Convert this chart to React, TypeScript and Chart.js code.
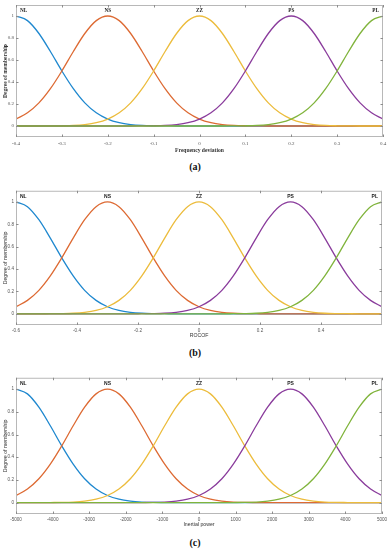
import React, { useEffect, useRef } from "react";
import { Chart, registerables } from "chart.js";
Chart.register(...registerables);

// Membership set names
const setNames = ["NL", "NS", "ZZ", "PS", "PL"];

// Membership degree samples (33 samples across each axis)
const muNL = [1, 0.958, 0.841, 0.677, 0.5, 0.339, 0.21, 0.12, 0.063, 0.03, 0.013, 0.005, 0.002, 0.001, 0, 0, 0, 0, 0, 0, 0, 0, 0, 0, 0, 0, 0, 0, 0, 0, 0, 0, 0];
const muNS = [0.063, 0.12, 0.21, 0.339, 0.5, 0.677, 0.841, 0.958, 1, 0.958, 0.841, 0.677, 0.5, 0.339, 0.21, 0.12, 0.063, 0.03, 0.013, 0.005, 0.002, 0.001, 0, 0, 0, 0, 0, 0, 0, 0, 0, 0, 0];
const muZZ = [0, 0, 0, 0.001, 0.002, 0.005, 0.013, 0.03, 0.063, 0.12, 0.21, 0.339, 0.5, 0.677, 0.841, 0.958, 1, 0.958, 0.841, 0.677, 0.5, 0.339, 0.21, 0.12, 0.063, 0.03, 0.013, 0.005, 0.002, 0.001, 0, 0, 0];
const muPS = [0, 0, 0, 0, 0, 0, 0, 0, 0, 0, 0, 0.001, 0.002, 0.005, 0.013, 0.03, 0.063, 0.12, 0.21, 0.339, 0.5, 0.677, 0.841, 0.958, 1, 0.958, 0.841, 0.677, 0.5, 0.339, 0.21, 0.12, 0.063];
const muPL = [0, 0, 0, 0, 0, 0, 0, 0, 0, 0, 0, 0, 0, 0, 0, 0, 0, 0, 0, 0.001, 0.002, 0.005, 0.013, 0.03, 0.063, 0.12, 0.21, 0.339, 0.5, 0.677, 0.841, 0.958, 1];

// Sample positions on each universe of discourse
const xFreq = [-0.4, -0.375, -0.35, -0.325, -0.3, -0.275, -0.25, -0.225, -0.2, -0.175, -0.15, -0.125, -0.1, -0.075, -0.05, -0.025, 0, 0.025, 0.05, 0.075, 0.1, 0.125, 0.15, 0.175, 0.2, 0.225, 0.25, 0.275, 0.3, 0.325, 0.35, 0.375, 0.4];
const xRocof = [-0.6, -0.5625, -0.525, -0.4875, -0.45, -0.4125, -0.375, -0.3375, -0.3, -0.2625, -0.225, -0.1875, -0.15, -0.1125, -0.075, -0.0375, 0, 0.0375, 0.075, 0.1125, 0.15, 0.1875, 0.225, 0.2625, 0.3, 0.3375, 0.375, 0.4125, 0.45, 0.4875, 0.525, 0.5625, 0.6];
const xPower = [-5000, -4687.5, -4375, -4062.5, -3750, -3437.5, -3125, -2812.5, -2500, -2187.5, -1875, -1562.5, -1250, -937.5, -625, -312.5, 0, 312.5, 625, 937.5, 1250, 1562.5, 1875, 2187.5, 2500, 2812.5, 3125, 3437.5, 3750, 4062.5, 4375, 4687.5, 5000];

// Peak positions of the sets (where the names are written)
const centersFreq = [-0.4, -0.2, 0, 0.2, 0.4];
const centersRocof = [-0.6, -0.3, 0, 0.3, 0.6];
const centersPower = [-5000, -2500, 0, 2500, 5000];

// Tick labels
const ticksFreq = [-0.4, -0.3, -0.2, -0.1, 0, 0.1, 0.2, 0.3, 0.4];
const ticksRocof = [-0.6, -0.4, -0.2, 0, 0.2, 0.4];
const ticksPower = [-5000, -4000, -3000, -2000, -1000, 0, 1000, 2000, 3000, 4000, 5000];
const ticksY = [0, 0.2, 0.4, 0.6, 0.8, 1];

const series = [muNL, muNS, muZZ, muPS, muPL];
const colors = ["#1f88cf", "#dd6a33", "#ecbc3c", "#8a3c9c", "#80b43c"];

const framePlugin = {
  id: "mfFrame",
  afterDraw(chart: any, _args: any, opts: any) {
    const { ctx, chartArea: a, scales } = chart;
    ctx.save();
    ctx.strokeStyle = "#b8b8b8";
    ctx.lineWidth = 1;
    ctx.strokeRect(a.left + 0.5, a.top + 0.5, a.right - a.left - 1, a.bottom - a.top - 1);
    ctx.strokeStyle = "#8c8c8c";
    ctx.beginPath();
    for (const t of scales.x.ticks) {
      const px = Math.round(scales.x.getPixelForValue(t.value)) + 0.5;
      ctx.moveTo(px, a.bottom);
      ctx.lineTo(px, a.bottom - 2.5);
      ctx.moveTo(px, a.top);
      ctx.lineTo(px, a.top + 2.5);
    }
    for (const t of scales.y.ticks) {
      const py = Math.round(scales.y.getPixelForValue(t.value)) + 0.5;
      ctx.moveTo(a.left, py);
      ctx.lineTo(a.left + 2.5, py);
      ctx.moveTo(a.right, py);
      ctx.lineTo(a.right - 2.5, py);
    }
    ctx.stroke();
    // set names
    ctx.fillStyle = "#222";
    ctx.font = opts.font;
    ctx.textBaseline = "middle";
    const y = scales.y.getPixelForValue(1.05);
    opts.centers.forEach((c: number, i: number) => {
      let x = scales.x.getPixelForValue(c);
      if (i === 0) {
        ctx.textAlign = "left";
        x += 4;
      } else if (i === opts.centers.length - 1) {
        ctx.textAlign = "right";
        x -= 4;
      } else {
        ctx.textAlign = "center";
      }
      ctx.fillText(opts.names[i], x, y);
    });
    ctx.restore();
  },
};

type PanelProps = {
  xs: number[];
  centers: number[];
  xticks: number[];
  xmin: number;
  xmax: number;
  xTitle: string;
  serif: boolean;
  top: number;
  height: number;
  padRight: number;
  xBox: number;
  tickPad: number;
};

function Panel(p: PanelProps) {
  const ref = useRef<HTMLCanvasElement>(null);
  useEffect(() => {
    const family = p.serif ? "'Liberation Serif', 'Times New Roman', serif" : "'Liberation Sans', Arial, sans-serif";
    const tickFont = { family, size: p.serif ? 5 : 4.6 };
    const titleFont = { family, size: p.serif ? 5.6 : 5.2, weight: p.serif ? "bold" : "normal", lineHeight: 1.2 };
    const chart = new Chart(ref.current as HTMLCanvasElement, {
      type: "line",
      data: {
        datasets: series.map((ys, i) => ({
          label: setNames[i],
          data: p.xs.map((x, j) => ({ x, y: ys[j] })),
          borderColor: colors[i],
          backgroundColor: colors[i],
          borderWidth: 1.3,
          pointRadius: 0,
          cubicInterpolationMode: "monotone" as const,
          order: 4 - i,
        })),
      },
      options: {
        animation: false,
        responsive: false,
        maintainAspectRatio: false,
        devicePixelRatio: 1,
        layout: { padding: { top: 4, right: p.padRight, left: 0, bottom: 0 } },
        plugins: {
          legend: { display: false },
          tooltip: { enabled: false },
          mfFrame: {
            names: setNames,
            centers: p.centers,
            font: `bold ${p.serif ? 5.2 : 5} px ${family}`.replace(" px", "px"),
          },
        } as any,
        scales: {
          x: {
            type: "linear",
            min: p.xmin,
            max: p.xmax,
            afterBuildTicks: (s: any) => {
              s.ticks = p.xticks.map((v) => ({ value: v }));
            },
            afterFit: (s: any) => {
              s.height = p.xBox;
            },
            grid: { display: false, drawTicks: false },
            border: { display: false },
            ticks: {
              padding: p.tickPad,
              font: tickFont,
              color: "#555",
              maxRotation: 0,
              autoSkip: false,
              callback: (v: any) => String(v),
            },
            title: { display: true, text: p.xTitle, font: titleFont as any, color: "#333", padding: { top: 0, bottom: 0 } },
          },
          y: {
            min: -0.1,
            max: 1.1,
            afterBuildTicks: (s: any) => {
              s.ticks = ticksY.map((v) => ({ value: v }));
            },
            afterFit: (s: any) => {
              s.width = 16;
            },
            grid: { display: false, drawTicks: false },
            border: { display: false },
            ticks: {
              padding: 2,
              font: tickFont,
              color: "#555",
              autoSkip: false,
              callback: (v: any) => String(v),
            },
            title: {
              display: true,
              text: "Degree of membership",
              font: titleFont as any,
              color: "#333",
              padding: { top: 2, bottom: 0 },
            },
          },
        },
      },
      plugins: [framePlugin],
    });
    return () => chart.destroy();
  }, []);
  return (
    <canvas
      ref={ref}
      width={390}
      height={p.height}
      style={{ position: "absolute", left: 0, top: p.top, width: 390, height: p.height, display: "block" }}
    />
  );
}

function Caption({ text, y }: { text: string; y: number }) {
  return (
    <div
      style={{
        position: "absolute",
        left: 0,
        width: 390,
        top: y - 7,
        height: 14,
        lineHeight: "14px",
        textAlign: "center",
        fontFamily: "'Liberation Serif', 'Times New Roman', serif",
        fontWeight: "bold",
        fontSize: 10,
        color: "#111",
      }}
    >
      {text}
    </div>
  );
}

export default function App() {
  return (
    <div style={{ position: "absolute", left: 0, top: 0, width: 390, height: 550, background: "#fff", overflow: "hidden" }}>
      <Panel xs={xFreq} centers={centersFreq} xticks={ticksFreq} xmin={-0.4} xmax={0.4} xTitle="Frequency deviation" serif={true} top={0} height={154} padRight={7} xBox={17} tickPad={3.5} />
      <Caption text="(a)" y={167} />
      <Panel xs={xRocof} centers={centersRocof} xticks={ticksRocof} xmin={-0.6} xmax={0.6} xTitle="ROCOF" serif={false} top={186} height={153} padRight={8} xBox={14} tickPad={2.5} />
      <Caption text="(b)" y={353} />
      <Panel xs={xPower} centers={centersPower} xticks={ticksPower} xmin={-5000} xmax={5000} xTitle="Inertial power" serif={false} top={373} height={155} padRight={8} xBox={14} tickPad={2.5} />
      <Caption text="(c)" y={543} />
    </div>
  );
}
